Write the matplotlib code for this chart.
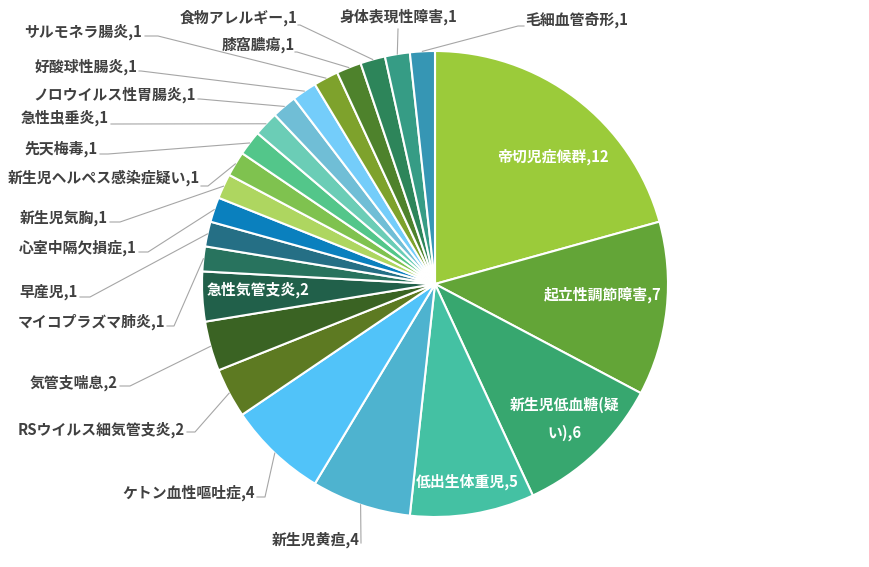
import numpy as np
import matplotlib
matplotlib.use('Agg')
import matplotlib.pyplot as plt

plt.rcParams['font.family'] = ['Noto Sans CJK JP', 'DejaVu Sans']

# data, clockwise from 12 o'clock
names = ['帝切児症候群', '起立性調節障害', '新生児低血糖(疑い)', '低出生体重児', '新生児黄疸',
         'ケトン血性嘔吐症', 'RSウイルス細気管支炎', '気管支喘息', '急性気管支炎', 'マイコプラズマ肺炎',
         '早産児', '心室中隔欠損症', '新生児気胸', '新生児ヘルペス感染症疑い', '先天梅毒',
         '急性虫垂炎', 'ノロウイルス性胃腸炎', '好酸球性腸炎', 'サルモネラ腸炎', '膝窩膿瘍',
         '食物アレルギー', '身体表現性障害', '毛細血管奇形']
counts = [12, 7, 6, 5, 4, 4, 2, 2, 2, 1, 1, 1, 1, 1, 1, 1, 1, 1, 1, 1, 1, 1, 1]
colors = ['#9BCB3A', '#63A537', '#37A76F', '#44C1A3', '#4EB3CF', '#51C3F9',
          '#5D7A22', '#3A6323', '#21604A', '#28735E', '#256F85', '#0A80BE',
          '#AED660', '#7FC24F', '#53C68A', '#6BCDB6', '#70BED6', '#74CDFA',
          '#7EA22C', '#4E822C', '#2D855A', '#369C85', '#3696B4']

W, H = 870, 567
def px(x, y):
    return x, H - y

fig = plt.figure(figsize=(W / 100, H / 100), dpi=100)
ax = fig.add_axes([0, 0, 1, 1])
wedges, _ = ax.pie(counts, colors=colors, startangle=90, counterclock=False,
                   center=px(435, 284), radius=233,
                   wedgeprops=dict(edgecolor='white', linewidth=1.5))
ax.set_xlim(0, W)
ax.set_ylim(0, H)
ax.set_aspect('equal')
ax.axis('off')

fs = 10.7
txt_col = '#404040'
line_col = '#A6A6A6'

# inside labels: index -> (x, y, wrap position)
inside = {0: (553, 157, None), 1: (603, 295, None), 2: (565, 419, 8),
          3: (467, 482, None), 8: (258, 290, None)}
for i, (x, y, wrap) in inside.items():
    s = f'{names[i]},{counts[i]}'
    if wrap:
        s = s[:wrap] + '\n' + s[wrap:]
    ax.text(*px(x, y), s, color='white', fontsize=fs, fontweight='bold',
            ha='center', va='center', linespacing=1.9)

# outside labels: index -> (text x, text y, ha, line end x, line end y, elbow x)
outside = {
    4: (360, 540, 'right', 361, 543, 361),
    5: (255, 493, 'right', 257, 497, 265),
    6: (185, 430, 'right', 187, 432, 195),
    7: (118, 383, 'right', 120, 386, 130),
    9: (165, 322, 'right', 167, 326, 174),
    10: (78, 292, 'right', 80, 297, 90),
    11: (137, 248, 'right', 139, 252, 148),
    12: (108, 218, 'right', 110, 222, 120),
    13: (200, 178, 'right', 201, 186, 208),
    14: (98, 149, 'right', 100, 154, 108),
    15: (109, 118, 'right', 111, 124, 113),
    16: (196, 95, 'right', 198, 99, 200),
    17: (137, 67, 'right', 139, 71, 141),
    18: (142, 32, 'right', 145, 36, 158),
    19: (295, 45, 'right', 295, 52, 297),
    20: (297, 18, 'right', 298, 25, 300),
    21: (398, 17, 'center', 398, 29, 398),
    22: (525, 20, 'left', 524, 26, 518),
}
for i, (tx, ty, ha, lx, ly, ex) in outside.items():
    w = wedges[i]
    mid = np.deg2rad((w.theta1 + w.theta2) / 2)
    rx = w.center[0] + w.r * np.cos(mid)
    ry = w.center[1] + w.r * np.sin(mid)
    ex_, ey_ = px(ex, ly)
    lx_, ly_ = px(lx, ly)
    ax.plot([rx, ex_, lx_], [ry, ey_, ly_], color=line_col, lw=0.8)
    ax.text(*px(tx, ty), f'{names[i]},{counts[i]}', color=txt_col, fontsize=fs,
            fontweight='bold', ha=ha, va='center')

fig.savefig('out.png', dpi=100)
